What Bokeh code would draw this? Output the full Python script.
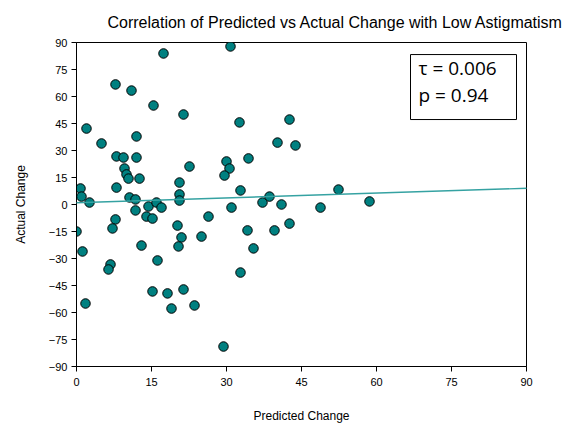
from bokeh.plotting import figure
from bokeh.models import Label, Slope, FixedTicker, Range1d
from bokeh.embed import file_html
from bokeh.resources import INLINE

# Predicted vs actual change (low astigmatism group)
predicted = [0.0, 0.8, 1.0, 2.6, 1.2, 1.8, 2.0, 5.0, 7.8, 11.0, 17.4, 15.4, 21.4, 12.0,
             8.0, 9.4, 12.0, 9.6, 10.0, 10.4, 12.6, 8.0, 10.6, 11.8, 14.4, 16.0, 17.0,
             11.8, 14.0, 15.2, 7.8, 7.2, 6.8, 6.4, 13.0, 16.2, 15.2, 18.2, 19.0, 21.4,
             23.6, 20.6, 20.6, 20.6, 20.2, 21.0, 20.4, 22.6, 25.0, 26.4, 29.4, 30.0,
             30.6, 29.6, 30.8, 32.6, 32.8, 31.0, 32.8, 34.4, 34.2, 35.4, 37.2, 38.6,
             39.6, 40.2, 41.0, 42.6, 42.6, 43.8, 48.8, 52.4, 58.6]
actual = [-15.0, 8.9, 4.4, 1.1, -26.1, -55.0, 42.2, 33.9, 66.7, 63.3, 83.9, 55.0, 50.0, 37.8,
          26.7, 26.1, 26.1, 20.0, 16.7, 14.4, 14.4, 9.4, 3.9, 2.8, -1.1, 1.1, -1.7,
          -3.3, -6.7, -7.8, -8.3, -13.3, -33.3, -36.1, -22.8, -31.1, -48.3, -49.4, -57.8, -47.2,
          -56.1, 12.2, 5.6, 2.2, -11.7, -18.3, -23.3, 21.1, -17.8, -6.7, -78.9, 23.9,
          20.0, 16.1, 87.8, 45.6, 7.8, -1.7, -37.8, 25.6, -14.4, -24.4, 1.1, 4.4,
          -14.4, 34.4, 0.0, 47.2, -10.6, 32.8, -1.7, 8.3, 1.7]

# fitted trend line
trend_intercept = 1.0
trend_slope = 0.089

tau_text = "\u03c4 = 0.006"
p_text = "p = 0.94"

x_ticks = [0, 15, 30, 45, 60, 75, 90]
y_ticks = [-90, -75, -60, -45, -30, -15, 0, 15, 30, 45, 60, 75, 90]

FONT = "Liberation Sans"

p = figure(width=574, height=432, output_backend="svg", toolbar_location=None,
           x_range=Range1d(0, 90), y_range=Range1d(-90, 90),
           min_border_left=76, min_border_right=48, min_border_top=42, min_border_bottom=66)

p.title.text = "Correlation of  Predicted vs Actual Change with Low Astigmatism"
p.title.text_font = FONT
p.title.text_font_size = "16px"
p.title.text_font_style = "normal"
p.title.text_color = "black"
p.title.align = "left"
p.title.offset = 31
p.title.standoff = 23

p.grid.visible = False
p.outline_line_color = "black"
p.outline_line_width = 1
p.background_fill_color = "white"
p.border_fill_color = "white"

for ax in (p.xaxis[0], p.yaxis[0]):
    ax.axis_line_color = "black"
    ax.major_tick_line_color = "black"
    ax.major_tick_out = 5
    ax.major_tick_in = 0
    ax.minor_tick_line_color = None
    ax.major_label_text_font = FONT
    ax.major_label_text_font_size = "11px"
    ax.major_label_text_color = "black"
    ax.axis_label_text_font = FONT
    ax.axis_label_text_font_size = "12px"
    ax.axis_label_text_font_style = "normal"
    ax.axis_label_text_color = "black"

p.xaxis.ticker = FixedTicker(ticks=x_ticks)
p.yaxis.ticker = FixedTicker(ticks=y_ticks)
p.xaxis.axis_label = "Predicted Change"
p.yaxis.axis_label = "Actual Change"
p.xaxis.axis_label_standoff = 20
p.yaxis.axis_label_standoff = 18
p.xaxis.major_label_standoff = 6
p.yaxis.major_label_standoff = 4

p.add_layout(Slope(gradient=trend_slope, y_intercept=trend_intercept,
                   line_color="#35a2a2", line_width=1.4))

p.scatter(predicted, actual, size=9.5, fill_color="#008080", line_color="black", line_width=1)

# statistics box
p.quad(left=[66.8], right=[88.0], bottom=[47.2], top=[83.3],
       fill_color="white", line_color="black", line_width=1)
p.add_layout(Label(x=68.4, y=68.6, text=tau_text, text_font="Open Sans",
                   text_font_size="19px", text_color="black"))
p.add_layout(Label(x=68.4, y=53.6, text=p_text, text_font="Open Sans",
                   text_font_size="19px", text_color="black"))

open("out.html", "w").write(file_html(p, INLINE))
